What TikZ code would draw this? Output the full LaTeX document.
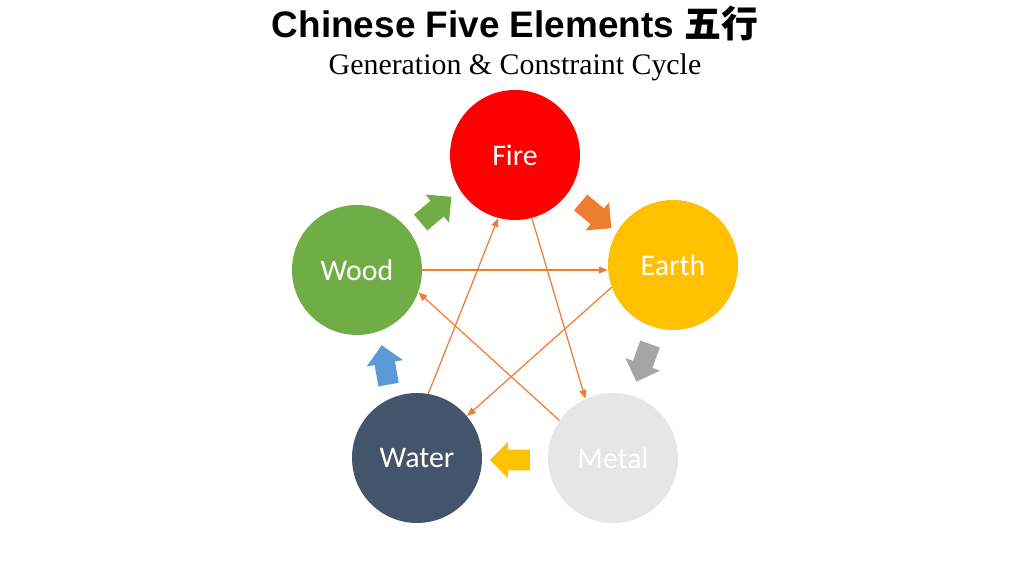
\documentclass[tikz,border=0pt]{standalone}
\usepackage{fontspec}
\setmainfont{Liberation Serif}
\newfontfamily\titlefont{Liberation Sans}
\newfontfamily\cjkfont{Noto Sans CJK SC}
\newfontfamily\labelfont{Carlito}
\usetikzlibrary{shapes.arrows,arrows.meta}
\definecolor{firered}{HTML}{FF0000}
\definecolor{earthgold}{HTML}{FFC000}
\definecolor{metalgray}{HTML}{E7E6E6}
\definecolor{waterblue}{HTML}{44546A}
\definecolor{woodgreen}{HTML}{70AD47}
\definecolor{genorange}{HTML}{ED7D31}
\definecolor{gengray}{HTML}{A5A5A5}
\definecolor{genblue}{HTML}{5B9BD5}
\tikzset{
  element/.style={circle, minimum size=2.6cm, inner sep=0pt, text=white, font=\labelfont\fontsize{17}{20}\selectfont},
  genarrow/.style={single arrow, minimum height=0.8cm, inner xsep=0pt, inner ysep=0.2cm, single arrow head extend=0.16cm, single arrow head indent=0pt, text height=0pt, text depth=0pt},
  control/.style={genorange, line width=0.7pt, -{Triangle[length=5pt,width=4pt]}}
}
\begin{document}
\begin{tikzpicture}
\useasboundingbox (0,0) rectangle (20.48,11.52);
% titles
\node (title) at (10.3,11.05) {\titlefont\bfseries\fontsize{21}{24}\selectfont Chinese Five Elements \cjkfont\bfseries 五行};
\node (subtitle) at (10.3,10.18) {\fontsize{17}{20}\selectfont Generation \& Constraint Cycle};
% elements
\node[element, fill=firered] (fire) at (10.3,8.42) {Fire};
\node[element, fill=earthgold] (earth) at (13.46,6.22) {Earth};
\node[element, fill=metalgray] (metal) at (12.26,2.36) {Metal};
\node[element, fill=waterblue] (water) at (8.34,2.36) {Water};
\node[element, fill=woodgreen] (wood) at (7.14,6.12) {Wood};
% generation cycle
\node[genarrow, fill=woodgreen, rotate=40] (woodfire) at (8.64,7.26) {};
\node[genarrow, fill=genorange, rotate=-40] (fireearth) at (11.84,7.28) {};
\node[genarrow, fill=gengray, rotate=-110] (earthmetal) at (12.9,4.36) {};
\node[genarrow, fill=earthgold, rotate=180] (metalwater) at (10.3,2.32) {};
\node[genarrow, fill=genblue, rotate=100] (waterwood) at (7.72,4.12) {};
% constraint cycle
\draw[control] (wood.east) -- (earth.west |- wood.east);
\draw[control] (earth.200) -- (water.40);
\draw[control] (water.80) -- (fire.255);
\draw[control] (fire.285) -- (metal.115);
\draw[control] (metal.145) -- (wood.340);
\end{tikzpicture}
\end{document}
